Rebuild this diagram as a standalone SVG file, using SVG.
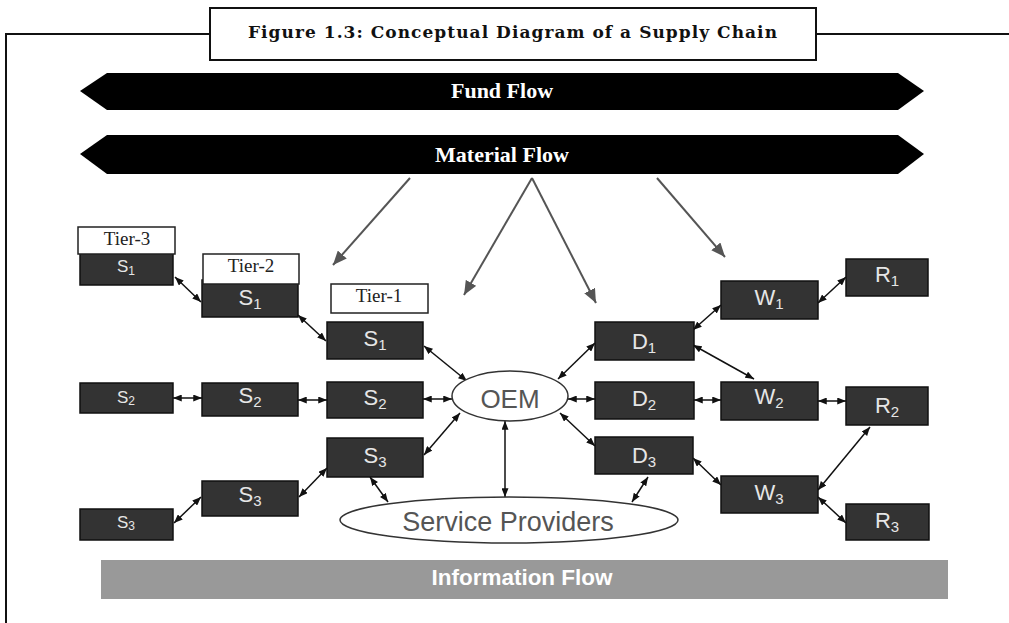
<svg xmlns="http://www.w3.org/2000/svg" width="1009" height="623" viewBox="0 0 1009 623">
<style>
.frame{fill:none;stroke:#111;stroke-width:2}
.title{font-family:"DejaVu Serif","Liberation Serif",serif;font-weight:bold;font-size:17px;fill:#111}
.band{fill:#000}
.bandtxt{font-family:"Liberation Serif",serif;font-weight:bold;font-size:22px;fill:#fff;text-anchor:middle}
.info{fill:#999}
.infotxt{font-family:"Liberation Sans",Arial,sans-serif;font-weight:bold;font-size:22px;fill:#fff;text-anchor:middle}
.box{fill:#333;stroke:#111;stroke-width:1.5}
.lbl{font-family:"Liberation Sans",Arial,sans-serif;font-size:22px;fill:#e6e6e6;text-anchor:middle}
.sm{font-size:17px}
.sub{font-size:15px}
.smsub{font-size:12px}
.tier{fill:#fff;stroke:#222;stroke-width:1.5}
.tiertxt{font-family:"Liberation Serif",serif;font-size:19px;fill:#222;text-anchor:middle}
.ell{fill:#fff;stroke:#333;stroke-width:1.5}
.elltxt{font-family:"Liberation Sans",Arial,sans-serif;fill:#555;text-anchor:middle}
.con{stroke:#111;stroke-width:1.5;fill:none;marker-start:url(#a);marker-end:url(#a)}
.flow{stroke:#555;stroke-width:2;fill:none;marker-end:url(#g)}
</style>
<defs>
<marker id="a" viewBox="0 0 10 8" refX="10" refY="4" markerWidth="9" markerHeight="7" markerUnits="userSpaceOnUse" orient="auto-start-reverse"><path d="M0,0 L10,4 L0,8 z" fill="#111"/></marker>
<marker id="g" viewBox="0 0 14 12" refX="14" refY="6" markerWidth="14" markerHeight="12" markerUnits="userSpaceOnUse" orient="auto"><path d="M0,0 L14,6 L0,12 z" fill="#555"/></marker>
</defs>

<g id="frame">
<path class="frame" d="M6,623 L6,34 L210,34 M816,34 L1009,34"/>
<rect class="frame" x="210" y="8" width="606" height="52" fill="#fff"/>
<text class="title" x="248" y="38" textLength="529" lengthAdjust="spacing">Figure 1.3: Conceptual Diagram of a Supply Chain</text>
</g>

<g id="fund-flow">
<polygon class="band" points="80,91 107,73 898,73 924,91 898,110 107,110"/>
<text class="bandtxt" x="502" y="98">Fund Flow</text>
</g>
<g id="material-flow">
<polygon class="band" points="80,154 107,135 898,135 924,154 898,174 107,174"/>
<text class="bandtxt" x="502" y="162">Material Flow</text>
</g>
<g id="information-flow">
<rect class="info" x="101" y="560" width="847" height="39"/>
<text class="infotxt" x="522" y="585" textLength="181" lengthAdjust="spacingAndGlyphs">Information Flow</text>
</g>

<g id="connectors">
<line class="flow" x1="410" y1="178" x2="333" y2="265"/>
<line class="flow" x1="532" y1="178" x2="464" y2="295"/>
<line class="flow" x1="532" y1="178" x2="596" y2="303"/>
<line class="flow" x1="657" y1="178" x2="725" y2="257"/>
<line class="con" x1="175" y1="277" x2="201" y2="302"/>
<line class="con" x1="298" y1="315" x2="326" y2="341"/>
<line class="con" x1="424" y1="346" x2="467" y2="381"/>
<line class="con" x1="173" y1="398" x2="202" y2="398"/>
<line class="con" x1="298" y1="400" x2="327" y2="400"/>
<line class="con" x1="423" y1="399" x2="452" y2="399"/>
<line class="con" x1="460" y1="413" x2="424" y2="455"/>
<line class="con" x1="327" y1="468" x2="299" y2="497"/>
<line class="con" x1="201" y1="497" x2="174" y2="523"/>
<line class="con" x1="370" y1="477" x2="388" y2="502"/>
<line class="con" x1="505" y1="421" x2="505" y2="497"/>
<line class="con" x1="558" y1="379" x2="595" y2="343"/>
<line class="con" x1="568" y1="399" x2="595" y2="399"/>
<line class="con" x1="560" y1="413" x2="595" y2="446"/>
<line class="con" x1="632" y1="502" x2="648" y2="477"/>
<line class="con" x1="693" y1="330" x2="721" y2="305"/>
<line class="con" x1="693" y1="345" x2="754" y2="379"/>
<line class="con" x1="694" y1="400" x2="721" y2="400"/>
<line class="con" x1="818" y1="401" x2="846" y2="401"/>
<line class="con" x1="693" y1="458" x2="721" y2="485"/>
<line class="con" x1="818" y1="490" x2="870" y2="427"/>
<line class="con" x1="818" y1="497" x2="846" y2="523"/>
<line class="con" x1="818" y1="303" x2="846" y2="277"/>
</g>

<g id="s1-tier3"><rect class="box" x="80" y="250" width="93" height="35"/><text class="lbl sm" x="126" y="272">S<tspan class="smsub" dy="3">1</tspan></text></g>
<g id="s1-tier2"><rect class="box" x="202" y="280" width="96" height="37"/><text class="lbl" x="250" y="305">S<tspan class="sub" dy="4">1</tspan></text></g>
<g id="s1-tier1"><rect class="box" x="327" y="322" width="96" height="37"/><text class="lbl" x="375" y="346">S<tspan class="sub" dy="4">1</tspan></text></g>
<g id="s2-tier3"><rect class="box" x="80" y="383" width="93" height="30"/><text class="lbl sm" x="126" y="403">S<tspan class="smsub" dy="2">2</tspan></text></g>
<g id="s2-tier2"><rect class="box" x="202" y="383" width="96" height="33"/><text class="lbl" x="250" y="403">S<tspan class="sub" dy="4">2</tspan></text></g>
<g id="s2-tier1"><rect class="box" x="327" y="382" width="96" height="36"/><text class="lbl" x="375" y="405">S<tspan class="sub" dy="4">2</tspan></text></g>
<g id="s3-tier1"><rect class="box" x="327" y="438" width="96" height="39"/><text class="lbl" x="375" y="463">S<tspan class="sub" dy="4">3</tspan></text></g>
<g id="s3-tier2"><rect class="box" x="202" y="481" width="96" height="35"/><text class="lbl" x="250" y="502">S<tspan class="sub" dy="4">3</tspan></text></g>
<g id="s3-tier3"><rect class="box" x="80" y="509" width="93" height="31"/><text class="lbl sm" x="126" y="528">S<tspan class="smsub" dy="2">3</tspan></text></g>

<g id="tier-3"><rect class="tier" x="78" y="227" width="97" height="27"/><text class="tiertxt" x="127" y="245">Tier-3</text></g>
<g id="tier-2"><rect class="tier" x="203" y="254" width="96" height="30"/><text class="tiertxt" x="251" y="272">Tier-2</text></g>
<g id="tier-1"><rect class="tier" x="331" y="284" width="97" height="29"/><text class="tiertxt" x="379" y="302">Tier-1</text></g>

<g id="oem"><ellipse class="ell" cx="510" cy="396" rx="58" ry="25"/><text class="elltxt" x="510" y="408" font-size="26">OEM</text></g>
<g id="service-providers"><ellipse class="ell" cx="509" cy="520" rx="169" ry="23"/><text class="elltxt" x="508" y="531" font-size="27">Service Providers</text></g>

<g id="d1"><rect class="box" x="595" y="322" width="99" height="38"/><text class="lbl" x="644" y="349">D<tspan class="sub" dy="4">1</tspan></text></g>
<g id="d2"><rect class="box" x="595" y="382" width="99" height="37"/><text class="lbl" x="644" y="406">D<tspan class="sub" dy="4">2</tspan></text></g>
<g id="d3"><rect class="box" x="595" y="437" width="98" height="37"/><text class="lbl" x="644" y="463">D<tspan class="sub" dy="4">3</tspan></text></g>

<g id="w1"><rect class="box" x="721" y="281" width="97" height="38"/><text class="lbl" x="769" y="305">W<tspan class="sub" dy="4">1</tspan></text></g>
<g id="w2"><rect class="box" x="721" y="382" width="97" height="38"/><text class="lbl" x="769" y="404">W<tspan class="sub" dy="4">2</tspan></text></g>
<g id="w3"><rect class="box" x="721" y="476" width="97" height="37"/><text class="lbl" x="769" y="500">W<tspan class="sub" dy="4">3</tspan></text></g>

<g id="r1"><rect class="box" x="846" y="259" width="82" height="37"/><text class="lbl" x="887" y="282">R<tspan class="sub" dy="4">1</tspan></text></g>
<g id="r2"><rect class="box" x="846" y="387" width="82" height="38"/><text class="lbl" x="887" y="413">R<tspan class="sub" dy="4">2</tspan></text></g>
<g id="r3"><rect class="box" x="846" y="504" width="83" height="36"/><text class="lbl" x="887" y="528">R<tspan class="sub" dy="4">3</tspan></text></g>
</svg>
